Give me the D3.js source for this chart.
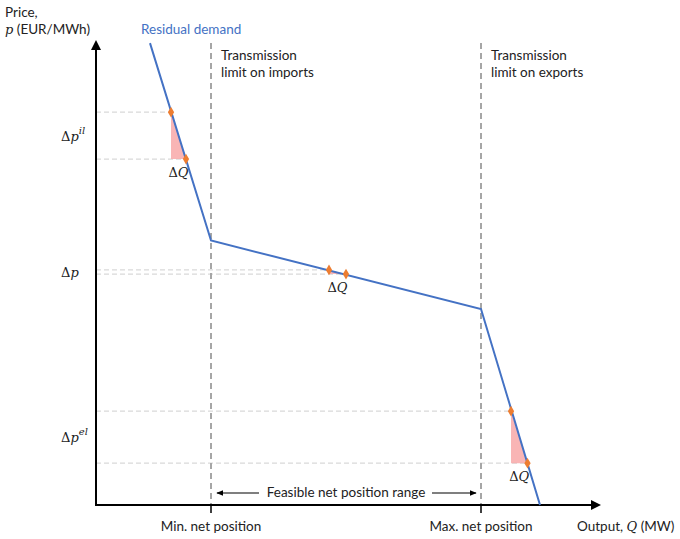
<!DOCTYPE html>
<html>
<head>
<meta charset="utf-8">
<script src="https://cdn.jsdelivr.net/npm/d3@7"></script>
<style>
  body { margin: 0; background: #fff; }
  text { font-family: Lato, "Open Sans", sans-serif; font-size: 13.5px; fill: #222; }
  .math { font-family: "DejaVu Serif", "Liberation Serif", serif; font-style: italic; font-size: 13px; }
  .mathu { font-family: "DejaVu Serif", "Liberation Serif", serif; font-size: 13px; }
</style>
</head>
<body>
<div id="chart"></div>
<script>
// residual demand curve, kinked at the two transmission limits
var demandQ = [10.8, 23, 77, 88.8],
    demandP = [100.4, 57.5, 42.6, 0];
var limitQ = [23, 77],
    limitNames = ["Min. net position", "Max. net position"],
    limitTitles = [["Transmission", "limit on imports"], ["Transmission", "limit on exports"]];
// pairs of points used for the price changes
var stepNames = ["il", "", "el"],
    stepQ = [[15, 18], [46.6, 50], [83, 86.3]],
    stepP = [[85.4, 75.2], [51.1, 50.2], [20.4, 9.1]];

var W = 680, H = 539,
    x0 = 96, y0 = 505;

var svg = d3.select("#chart").append("svg")
    .attr("width", W)
    .attr("height", H);

var x = d3.scaleLinear().domain([0, 100]).range([x0, 596]),
    y = d3.scaleLinear().domain([0, 100]).range([y0, 45]);

var orange = "#ED7D31", blue = "#4472C4";

//grey guide lines to the axis
stepQ.forEach(function(q, i){
    [0, 1].forEach(function(k){
        svg.append("line")
            .attr("x1", x0).attr("x2", x(q[k]))
            .attr("y1", y(stepP[i][k])).attr("y2", y(stepP[i][k]))
            .attr("stroke", "#d9d9d9")
            .attr("stroke-width", 1.3)
            .attr("stroke-dasharray", "5,3");
    });
    //pink triangle
    svg.append("path")
        .attr("d", "M" + x(q[0]) + "," + y(stepP[i][0]) +
                   "L" + x(q[0]) + "," + y(stepP[i][1]) +
                   "L" + x(q[1]) + "," + y(stepP[i][1]) + "Z")
        .attr("fill", "#f8a8a8")
        .attr("opacity", 0.85);
});

//transmission limits
svg.selectAll(".limit")
    .data(limitQ)
  .enter().append("line")
    .attr("class", "limit")
    .attr("x1", function(d){ return x(d); })
    .attr("x2", function(d){ return x(d); })
    .attr("y1", 43).attr("y2", y0)
    .attr("stroke", "#a6a6a6")
    .attr("stroke-width", 2)
    .attr("stroke-dasharray", "6,4");

limitTitles.forEach(function(t, i){
    var tx = svg.append("text")
        .attr("x", x(limitQ[i]) + 10)
        .attr("y", 60);
    tx.append("tspan").text(t[0]);
    tx.append("tspan").attr("x", x(limitQ[i]) + 10).attr("dy", 17).text(t[1]);
});

//axes with arrow heads
svg.append("defs").append("marker")
    .attr("id", "arr")
    .attr("viewBox", "0 0 10 10")
    .attr("refX", 8).attr("refY", 5)
    .attr("markerWidth", 5).attr("markerHeight", 5)
    .attr("orient", "auto")
  .append("path")
    .attr("d", "M0,0L10,5L0,10Z")
    .attr("fill", "#000");

svg.append("line")
    .attr("x1", x0).attr("y1", y0).attr("x2", 599).attr("y2", y0)
    .attr("stroke", "#000").attr("stroke-width", 2)
    .attr("marker-end", "url(#arr)");
svg.append("line")
    .attr("x1", x0).attr("y1", y0 + 1).attr("x2", x0).attr("y2", 42)
    .attr("stroke", "#000").attr("stroke-width", 2)
    .attr("marker-end", "url(#arr)");

svg.selectAll(".tick")
    .data(limitQ)
  .enter().append("line")
    .attr("class", "tick")
    .attr("x1", function(d){ return x(d); })
    .attr("x2", function(d){ return x(d); })
    .attr("y1", y0).attr("y2", y0 + 8)
    .attr("stroke", "#000").attr("stroke-width", 1.5);

svg.selectAll(".tlabel")
    .data(limitNames)
  .enter().append("text")
    .attr("class", "tlabel")
    .attr("x", function(d, i){ return x(limitQ[i]); })
    .attr("y", 531)
    .attr("text-anchor", "middle")
    .text(function(d){ return d; });

//feasible range arrows
svg.append("defs").append("marker")
    .attr("id", "sarr")
    .attr("viewBox", "0 0 10 10")
    .attr("refX", 9).attr("refY", 5)
    .attr("markerWidth", 6).attr("markerHeight", 6)
    .attr("orient", "auto")
  .append("path")
    .attr("d", "M0,1L10,5L0,9Z")
    .attr("fill", "#000");

var midQ = (limitQ[0] + limitQ[1]) / 2;
svg.append("text")
    .attr("x", x(midQ)).attr("y", 497)
    .attr("text-anchor", "middle")
    .text("Feasible net position range");
svg.append("line")
    .attr("x1", x(midQ) - 87).attr("x2", x(limitQ[0]) + 6)
    .attr("y1", 493).attr("y2", 493)
    .attr("stroke", "#000").attr("stroke-width", 1.2)
    .attr("marker-end", "url(#sarr)");
svg.append("line")
    .attr("x1", x(midQ) + 86).attr("x2", x(limitQ[1]) - 5)
    .attr("y1", 493).attr("y2", 493)
    .attr("stroke", "#000").attr("stroke-width", 1.2)
    .attr("marker-end", "url(#sarr)");

//demand curve
var line = d3.line()
    .x(function(d){ return x(d[0]); })
    .y(function(d){ return y(d[1]); });

svg.append("path")
    .datum(d3.zip(demandQ, demandP))
    .attr("d", line)
    .attr("fill", "none")
    .attr("stroke", blue)
    .attr("stroke-width", 2);

svg.append("text")
    .attr("x", 141).attr("y", 34)
    .style("fill", blue)
    .text("Residual demand");

//markers
var diamond = d3.symbol().type(d3.symbolDiamond).size(34);
stepQ.forEach(function(q, i){
    [0, 1].forEach(function(k){
        svg.append("path")
            .attr("d", diamond)
            .attr("transform", "translate(" + x(q[k]) + "," + y(stepP[i][k]) + ")")
            .attr("fill", orange);
    });
    //delta Q
    var dq = svg.append("text")
        .attr("x", x((q[0] + q[1]) / 2))
        .attr("y", y(stepP[i][1]) + 18)
        .attr("text-anchor", "middle");
    dq.append("tspan").attr("class", "mathu").text("Δ");
    dq.append("tspan").attr("class", "math").text("Q");

    //delta p
    var dp = svg.append("text")
        .attr("x", 61)
        .attr("y", y((stepP[i][0] + stepP[i][1]) / 2) + 5);
    dp.append("tspan").attr("class", "mathu").text("Δ");
    dp.append("tspan").attr("class", "math").text("p");
    if(stepNames[i] !== ""){
        dp.append("tspan").attr("class", "math")
            .attr("dy", -7)
            .style("font-size", "10px")
            .text(stepNames[i]);
    }
});

//axis titles
var py = svg.append("text").attr("x", 5).attr("y", 17);
py.append("tspan").text("Price,");
py.append("tspan").attr("x", 5).attr("dy", 17).attr("class", "math").text("p");
py.append("tspan").text(" (EUR/MWh)");

var qx = svg.append("text").attr("x", 577).attr("y", 531);
qx.append("tspan").text("Output, ");
qx.append("tspan").attr("class", "math").text("Q");
qx.append("tspan").text(" (MW)");
</script>
</body>
</html>
